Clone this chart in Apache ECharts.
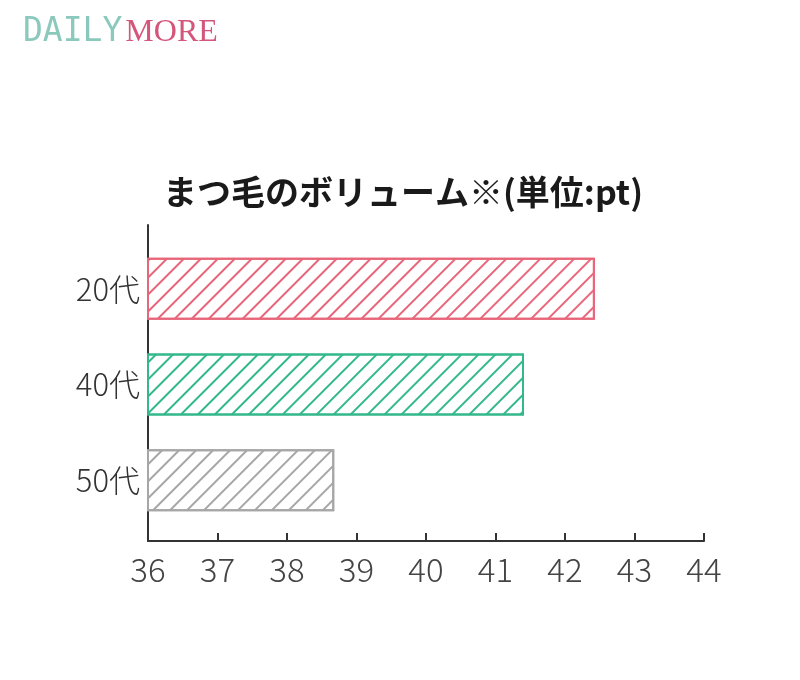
<!DOCTYPE html>
<html><head><meta charset="utf-8">
<script src="https://cdn.jsdelivr.net/npm/echarts@6/dist/echarts.min.js"></script>
<style>html,body{margin:0;padding:0;background:#fff}#c{width:800px;height:680px}</style>
</head><body><div id="c"></div>
<script>
const categories = ['20代', '40代', '50代'];
const values = [42.43, 41.41, 38.68];
const barColors = ['#e8667a', '#33b88a', '#a6a6a6'];
const xTicks = [36, 37, 38, 39, 40, 41, 42, 43, 44];
const titleText = 'まつ毛のボリューム※(単位:pt)';

const chart = echarts.init(document.getElementById('c'), null, {renderer: 'canvas'});
const labelFont = '"Noto Sans CJK JP", sans-serif';
chart.setOption({
  backgroundColor: '#fff',
  animation: false,
  title: [
    {
      text: '{a|DAILY}{b|MORE}',
      left: 18, top: 11,
      textStyle: {
        rich: {
          a: {fontSize: 33, color: '#8cc9bd', fontFamily: '"DejaVu Sans Mono", monospace', fontWeight: 'normal', verticalAlign: 'bottom'},
          b: {fontSize: 32, color: '#d4567a', fontFamily: '"Liberation Serif", serif', fontWeight: 'normal', padding: [0, 0, 0, 3], verticalAlign: 'bottom'}
        }
      }
    },
    {
      text: titleText,
      left: 158, top: 170,
      textStyle: {fontSize: 34, fontWeight: 'bold', color: '#1a1a1a', fontFamily: '"Noto Sans CJK JP", sans-serif'}
    }
  ],
  grid: [
    {left: 148, right: 96, top: 241, height: 287},
    {left: 148, right: 96, top: 225, bottom: 139}
  ],
  xAxis: [
    {gridIndex: 0, type: 'value', min: xTicks[0], max: xTicks[xTicks.length - 1], interval: 1, show: false},
    {gridIndex: 1, type: 'value', min: xTicks[0], max: xTicks[xTicks.length - 1], interval: 1,
      axisLine: {show: true, lineStyle: {color: '#333', width: 2}},
      axisTick: {show: true, inside: true, length: 8, lineStyle: {color: '#333', width: 2}},
      axisLabel: {fontSize: 33, color: '#444', margin: 12, fontWeight: 300, fontFamily: labelFont},
      splitLine: {show: false}}
  ],
  yAxis: [
    {gridIndex: 0, type: 'category', inverse: true, data: categories,
      axisLine: {show: false}, axisTick: {show: false},
      axisLabel: {fontSize: 31, color: '#333', margin: 8, fontWeight: 300, fontFamily: labelFont}},
    {gridIndex: 1, type: 'value', min: 0, max: 1,
      axisLine: {show: true, lineStyle: {color: '#333', width: 2}},
      axisTick: {show: false}, axisLabel: {show: false}, splitLine: {show: false}}
  ],
  series: [{
    type: 'bar',
    xAxisIndex: 0, yAxisIndex: 0,
    barWidth: 62,
    data: values.map((v, i) => ({
      value: v,
      itemStyle: {
        color: '#fff',
        borderColor: barColors[i],
        borderWidth: 2,
        decal: {symbol: 'rect', symbolSize: 1, dashArrayX: [1, 0], dashArrayY: [2, 10], rotation: -Math.PI / 4, color: barColors[i]}
      }
    }))
  }]
});
</script></body></html>
